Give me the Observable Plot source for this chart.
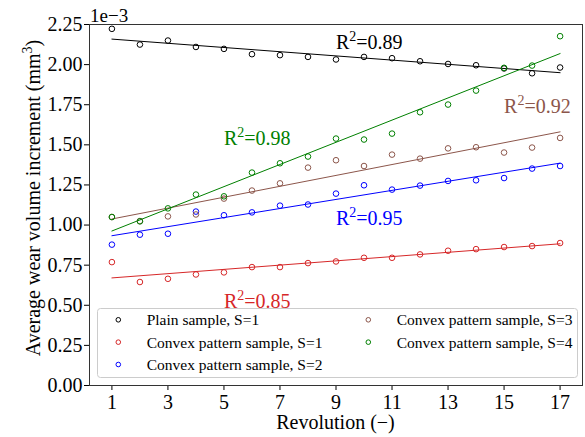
<!DOCTYPE html>
<html><head><meta charset="utf-8">
<script src="https://cdn.jsdelivr.net/npm/d3@7"></script>
<script src="https://cdn.jsdelivr.net/npm/@observablehq/plot@0.6"></script>
<style>html,body{margin:0;padding:0;background:#fff} svg{display:block}</style>
</head><body><div id="chart"></div>
<script>
const revolutions = [1,2,3,4,5,6,7,8,9,10,11,12,13,14,15,16,17];
const plainS1   = [2.223,2.125,2.150,2.110,2.098,2.065,2.059,2.048,2.032,2.048,2.040,2.021,2.004,1.996,1.976,1.946,1.982];
const convexS1  = [0.769,0.645,0.665,0.692,0.705,0.738,0.738,0.763,0.773,0.796,0.796,0.817,0.840,0.850,0.863,0.869,0.888];
const convexS2  = [0.878,0.940,0.946,1.084,1.061,1.079,1.121,1.128,1.196,1.248,1.221,1.246,1.275,1.279,1.293,1.352,1.368];
const convexS3  = [1.050,1.025,1.054,1.066,1.165,1.215,1.260,1.358,1.404,1.368,1.439,1.414,1.478,1.485,1.452,1.483,1.543];
const convexS4  = [1.050,1.023,1.104,1.190,1.179,1.327,1.385,1.427,1.539,1.533,1.570,1.703,1.751,1.838,1.980,1.994,2.177];
const seriesNames = ["Plain sample, S=1","Convex pattern sample, S=1","Convex pattern sample, S=2","Convex pattern sample, S=3","Convex pattern sample, S=4"];
const seriesColors = ["#000000","#d62728","#0000ff","#8c564b","#008000"];
const xTicks = [1,3,5,7,9,11,13,15,17];
const yTicks = [0,0.25,0.5,0.75,1.0,1.25,1.5,1.75,2.0,2.25];
const r2Values = ["0.89","0.85","0.95","0.92","0.98"];
const r2X = [9,5,9,15,5];
const r2Y = [2.1,0.485,1.0,1.7,1.5];

const seriesValues = [plainS1, convexS1, convexS2, convexS3, convexS4];
const rows = [];
seriesValues.forEach((vals, i) => vals.forEach((v, j) => rows.push({series: seriesNames[i], x: revolutions[j], y: v})));
const notes = r2Values.map((t, i) => ({series: seriesNames[i], x: r2X[i], y: r2Y[i], text: "R²=" + t}));

const FONT = "'Liberation Serif','Times New Roman',serif";
const plot = Plot.plot({
  width: 585, height: 437,
  marginLeft: 89, marginRight: 3, marginTop: 24, marginBottom: 52,
  style: {fontFamily: FONT, fontSize: "20px", color: "black", background: "white"},
  x: {domain: [0.2, 17.8], ticks: xTicks, tickSize: 5, tickPadding: 4, label: null, tickFormat: d => String(d)},
  y: {domain: [0, 2.25], ticks: yTicks, tickSize: 5, tickPadding: 2, label: null, tickFormat: d3.format(".2f")},
  color: {domain: seriesNames, range: seriesColors},
  marks: [
    Plot.linearRegressionY(rows, {x: "x", y: "y", stroke: "series", ci: 0, strokeWidth: 1}),
    Plot.dot(rows, {x: "x", y: "y", stroke: "series", r: 2.8, strokeWidth: 1, fill: "none"}),
    Plot.text(notes, {x: "x", y: "y", text: "text", fill: "series", textAnchor: "start", lineAnchor: "bottom", fontSize: 20, className: "r2"}),
    Plot.frame({stroke: "#333", strokeWidth: 1})
  ]
});
document.getElementById("chart").appendChild(plot);

const svg = d3.select(plot);
// superscripts for R^2
svg.selectAll("g.r2 text").each(function() {
  const t = d3.select(this);
  const s = t.text();
  const rest = s.slice(2);
  t.text(null);
  t.append("tspan").text("R");
  t.append("tspan").attr("dy", "-0.55em").attr("font-size", "0.7em").text("2");
  t.append("tspan").attr("dy", "0.385em").text(rest);
});

// offset label
svg.append("text").attr("x", 90).attr("y", 21.5).attr("text-anchor", "start").attr("font-family", FONT).attr("font-size", 19).attr("fill", "black").text("1e\u22123");

// axis labels
svg.append("text").attr("x", 335.5).attr("y", 429).attr("text-anchor", "middle").attr("font-family", FONT).attr("font-size", 20).attr("fill", "black").text("Revolution (\u2212)");
const yl = svg.append("text").attr("transform", "translate(40,198) rotate(-90)").attr("text-anchor", "middle").attr("font-family", FONT).attr("font-size", 20).attr("fill", "black");
yl.append("tspan").text("Average wear volume increment (mm");
yl.append("tspan").attr("dy", "-0.55em").attr("font-size", "0.7em").text("3");
yl.append("tspan").attr("dy", "0.385em").text(")");

// legend
const lg = svg.append("g").attr("text-anchor", "start");
lg.append("rect").attr("x", 97.5).attr("y", 308.5).attr("width", 480).attr("height", 69).attr("rx", 3)
  .attr("fill", "white").attr("fill-opacity", 0.8).attr("stroke", "#cccccc");
seriesNames.forEach((name, i) => {
  const col = i < 3 ? 0 : 1;
  const row = i < 3 ? i : i - 3;
  const mx = col ? 368.3 : 118.3;
  const cy = 319.8 + row * 22.35;
  lg.append("circle").attr("cx", mx).attr("cy", cy).attr("r", 2.3).attr("fill", "none").attr("stroke", seriesColors[i]).attr("stroke-width", 1);
  lg.append("text").attr("x", mx + 28.4).attr("y", cy + 5.4).attr("text-anchor", "start").attr("font-family", FONT).attr("font-size", 15.5).attr("fill", "black").text(name);
});
</script>
</body></html>
